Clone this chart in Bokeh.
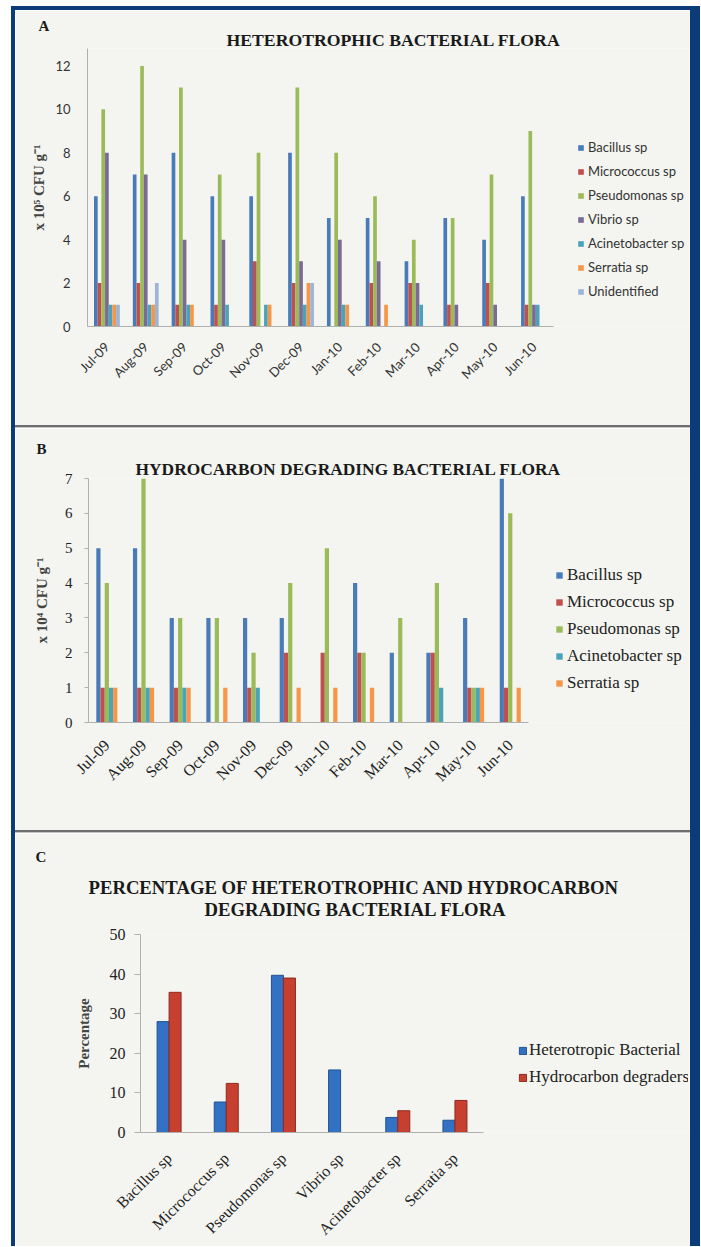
import math
from bokeh.plotting import figure
from bokeh.models import (ColumnDataSource, Range1d, FixedTicker,
                          Legend, LegendItem, Title, Div)
from bokeh.layouts import row, column
from bokeh.embed import file_html
from bokeh.resources import INLINE

# ---------------- data ----------------
months = ["Jul-09", "Aug-09", "Sep-09", "Oct-09", "Nov-09", "Dec-09",
          "Jan-10", "Feb-10", "Mar-10", "Apr-10", "May-10", "Jun-10"]

# Panel A: heterotrophic bacterial flora (x 10^5 CFU/g)
a_series = ["Bacillus sp", "Micrococcus sp", "Pseudomonas sp", "Vibrio sp",
            "Acinetobacter sp", "Serratia sp", "Unidentified"]
a_bacillus = [6, 7, 8, 6, 6, 8, 5, 5, 3, 5, 4, 6]
a_micrococcus = [2, 2, 1, 1, 3, 2, 0, 2, 2, 1, 2, 1]
a_pseudomonas = [10, 12, 11, 7, 8, 11, 8, 6, 4, 5, 7, 9]
a_vibrio = [8, 7, 4, 4, 0, 3, 4, 3, 2, 1, 1, 1]
a_acinetobacter = [1, 1, 1, 1, 1, 1, 1, 0, 1, 0, 0, 1]
a_serratia = [1, 1, 1, 0, 1, 2, 1, 1, 0, 0, 0, 0]
a_unidentified = [1, 2, 0, 0, 0, 2, 0, 0, 0, 0, 0, 0]
a_ticks = [0, 2, 4, 6, 8, 10, 12]

# Panel B: hydrocarbon degrading bacterial flora (x 10^4 CFU/g)
b_series = ["Bacillus sp", "Micrococcus sp", "Pseudomonas sp",
            "Acinetobacter sp", "Serratia sp"]
b_bacillus = [5, 5, 3, 3, 3, 3, 0, 4, 2, 2, 3, 7]
b_micrococcus = [1, 1, 1, 0, 1, 2, 2, 2, 0, 2, 1, 1]
b_pseudomonas = [4, 7, 3, 3, 2, 4, 5, 2, 3, 4, 1, 6]
b_acinetobacter = [1, 1, 1, 0, 1, 0, 0, 0, 0, 1, 1, 0]
b_serratia = [1, 1, 1, 1, 0, 1, 1, 1, 0, 0, 1, 1]
b_ticks = [0, 1, 2, 3, 4, 5, 6, 7]

# Panel C: percentage
c_species = ["Bacillus sp", "Micrococcus sp", "Pseudomonas sp", "Vibrio sp",
             "Acinetobacter sp", "Serratia sp"]
c_heterotropic = [28, 7.7, 39.7, 15.8, 3.8, 3.1]
c_hydrocarbon = [35.4, 12.4, 39, 0, 5.5, 8.1]
c_series = ["Heterotropic Bacterial", "Hydrocarbon degraders"]
c_ticks = [0, 10, 20, 30, 40, 50]

# ---------------- styles ----------------
BG = "#f4f5f0"
BLUE_FRAME = "#0c3b7a"
SERIF = "Liberation Serif"
SANS = "Lato"
XL = ["#4a7bb9", "#c0504d", "#9bbb59", "#7b6a96", "#4ba3ba", "#f79646", "#9bb5d6"]
W = 675


def make_fig(h, n_cat, x_end, y_end, left, right, top, bottom, labels):
    p = figure(width=W, height=h, x_range=Range1d(0, x_end),
               y_range=Range1d(0, y_end),
               output_backend="svg", toolbar_location=None,
               min_border_left=left, min_border_right=right,
               min_border_top=top, min_border_bottom=bottom)
    p.frame_align = False
    p.background_fill_color = BG
    p.border_fill_color = BG
    p.outline_line_color = None
    p.xgrid.grid_line_color = None
    p.ygrid.grid_line_color = None
    centers = [k + 0.5 for k in range(n_cat)]
    p.xaxis.ticker = FixedTicker(ticks=centers)
    p.xaxis.major_label_overrides = {c: lab for c, lab in zip(centers, labels)}
    p.xaxis.bounds = (0, n_cat)
    p.xaxis.major_tick_line_color = None
    p.xaxis.minor_tick_line_color = None
    p.yaxis.minor_tick_line_color = None
    p.xaxis.major_label_orientation = math.pi / 4
    return p, centers


def add_title(p, text, size, offset, standoff, valign="bottom"):
    p.add_layout(Title(text=text, align="left", offset=offset, standoff=standoff,
                       vertical_align=valign,
                       text_font=SERIF, text_font_size=f"{size}px",
                       text_font_style="bold", text_color="#1a1a1a"), "above")


# ---------------- Panel A ----------------
a_values = [a_bacillus, a_micrococcus, a_pseudomonas, a_vibrio,
            a_acinetobacter, a_serratia, a_unidentified]
pA, cenA = make_fig(415, len(months), 15.48, 12.8, 72, 2, 38, 99, months)
wA = 0.095
itemsA = []
for i, (name, vals) in enumerate(zip(a_series, a_values)):
    src = ColumnDataSource(dict(x=[c + (i - 3) * wA for c in cenA], top=vals))
    r = pA.vbar(x="x", top="top", width=wA, source=src,
                fill_color=XL[i], line_color=None)
    itemsA.append(LegendItem(label=name, renderers=[r]))
pA.yaxis.ticker = FixedTicker(ticks=a_ticks)
pA.yaxis.major_tick_line_color = None
pA.yaxis.major_label_standoff = 11
pA.yaxis.major_label_text_font = SANS
pA.yaxis.major_label_text_font_size = "13px"
pA.yaxis.major_label_text_color = "#333333"
pA.yaxis.axis_label = "x 10\u2075 CFU g\u207b\u00b9"
pA.yaxis.axis_label_text_font = SERIF
pA.yaxis.axis_label_text_font_style = "bold"
pA.yaxis.axis_label_text_font_size = "15px"
pA.yaxis.axis_label_standoff = 5
pA.xaxis.major_label_text_font = SANS
pA.xaxis.major_label_text_font_size = "13px"
pA.xaxis.major_label_text_color = "#333333"
pA.xaxis.major_label_standoff = 12
pA.axis.axis_line_color = "#b0b0b0"
legA = Legend(items=itemsA, location=(490, 27), orientation="vertical",
              glyph_width=7, glyph_height=7, label_height=14, spacing=8,
              padding=0, margin=0, label_standoff=4, border_line_color=None,
              background_fill_alpha=0, label_text_font=SANS,
              label_text_font_size="13px", label_text_color="#333333")
pA.add_layout(legA)
add_title(pA, "HETEROTROPHIC BACTERIAL FLORA", 17.7, 139, -2)
add_title(pA, "A", 15, -49, -10)

# ---------------- Panel B ----------------
b_values = [b_bacillus, b_micrococcus, b_pseudomonas, b_acinetobacter, b_serratia]
pB, cenB = make_fig(402, len(months), 16.36, 7, 73, 2, 50, 108, months)
colsB = [XL[0], XL[1], XL[2], XL[4], XL[5]]
wB = 0.115
itemsB = []
for i, (name, vals) in enumerate(zip(b_series, b_values)):
    src = ColumnDataSource(dict(x=[c + (i - 2) * wB for c in cenB], top=vals))
    r = pB.vbar(x="x", top="top", width=wB, source=src,
                fill_color=colsB[i], line_color=None)
    itemsB.append(LegendItem(label=name, renderers=[r]))
pB.yaxis.ticker = FixedTicker(ticks=b_ticks)
pB.yaxis.major_tick_out = 4
pB.yaxis.major_tick_in = 0
pB.yaxis.major_tick_line_color = "#b0b0b0"
pB.yaxis.major_label_standoff = 12
pB.yaxis.major_label_text_font = SERIF
pB.yaxis.major_label_text_font_size = "15px"
pB.yaxis.major_label_text_color = "#222222"
pB.yaxis.axis_label = "x 10\u2074 CFU g\u207b\u00b9"
pB.yaxis.axis_label_text_font = SERIF
pB.yaxis.axis_label_text_font_style = "bold"
pB.yaxis.axis_label_text_font_size = "15px"
pB.yaxis.axis_label_standoff = 12
pB.xaxis.major_label_text_font = SERIF
pB.xaxis.major_label_text_font_size = "16px"
pB.xaxis.major_label_text_color = "#222222"
pB.xaxis.major_label_standoff = 14
pB.axis.axis_line_color = "#b0b0b0"
legB = Legend(items=itemsB, location=(467, 29), orientation="vertical",
              glyph_width=8, glyph_height=8, label_height=16, spacing=7,
              padding=0, margin=0, label_standoff=4, border_line_color=None,
              background_fill_alpha=0, label_text_font=SERIF,
              label_text_font_size="17px", label_text_color="#222222")
pB.add_layout(legB)
add_title(pB, "HYDROCARBON DEGRADING BACTERIAL FLORA", 17.4, 47, 0)
add_title(pB, "B", 15, -52, 0)

# ---------------- Panel C ----------------
pC, cenC = make_fig(413, len(c_species), 9.585, 50, 125, 2, 101, 112, c_species)
wC = 0.21
srcC1 = ColumnDataSource(dict(x=[c - wC / 2 for c in cenC], top=c_heterotropic))
srcC2 = ColumnDataSource(dict(x=[c + wC / 2 for c in cenC], top=c_hydrocarbon))
r1 = pC.vbar(x="x", top="top", width=wC, source=srcC1,
             fill_color="#3371c4", line_color="#22528f", line_width=1)
r2 = pC.vbar(x="x", top="top", width=wC, source=srcC2,
             fill_color="#c7402f", line_color="#8f2a1f", line_width=1)
pC.yaxis.ticker = FixedTicker(ticks=c_ticks)
pC.yaxis.major_tick_out = 6
pC.yaxis.major_tick_in = 0
pC.yaxis.major_tick_line_color = "#b0b0b0"
pC.yaxis.major_label_standoff = 9
pC.yaxis.major_label_text_font = SERIF
pC.yaxis.major_label_text_font_size = "16px"
pC.yaxis.major_label_text_color = "#222222"
pC.yaxis.axis_label = "Percentage"
pC.yaxis.axis_label_text_font = SERIF
pC.yaxis.axis_label_text_font_style = "bold"
pC.yaxis.axis_label_text_font_size = "15px"
pC.yaxis.axis_label_standoff = 15
pC.xaxis.major_label_text_font = SERIF
pC.xaxis.major_label_text_font_size = "16px"
pC.xaxis.major_label_text_color = "#222222"
pC.xaxis.major_label_standoff = 17
pC.axis.axis_line_color = "#b0b0b0"
legC = Legend(items=[LegendItem(label=c_series[0], renderers=[r1]),
                     LegendItem(label=c_series[1], renderers=[r2])],
              location=(378, 45), orientation="vertical",
              glyph_width=9, glyph_height=9, label_height=17, spacing=7,
              padding=0, margin=0, label_standoff=2, border_line_color=None,
              background_fill_alpha=0, label_text_font=SERIF,
              label_text_font_size="17px", label_text_color="#222222")
pC.add_layout(legC)
# stacked from the frame upward: gap, second line, first line, panel letter
pC.add_layout(Title(text=" ", text_font_size="10px", standoff=2,
                    text_color=BG), "above")
add_title(pC, "DEGRADING BACTERIAL FLORA", 18.7, 64, 0)
add_title(pC, "PERCENTAGE OF HETEROTROPHIC AND HYDROCARBON", 18.7, -52, -3)
add_title(pC, "C", 15, -105, 20, valign="top")

# ---------------- frame / layout ----------------
def bar_div(w, h, color):
    return Div(text="", width=w, height=h, margin=0,
               styles={"background-color": color})


def sep_div():
    return Div(text="", width=W, height=3, margin=0,
               styles={"background-color": "#c4c4c4",
                       "border-top": "2px solid #6e6e6e",
                       "box-sizing": "border-box"})


H_INNER = 4 + 415 + 3 + 402 + 3 + 413
inner = column(bar_div(W, 4, BLUE_FRAME), pA, sep_div(), pB, sep_div(), pC,
               spacing=0)
layout = column(Div(text="", width=700, height=6, margin=0),
                row(Div(text="", width=11, height=H_INNER, margin=0),
                    bar_div(4, H_INNER, BLUE_FRAME), inner,
                    bar_div(10, H_INNER, BLUE_FRAME), spacing=0),
                spacing=0)

open("out.html", "w").write(file_html(layout, INLINE, title="Bacterial flora"))
